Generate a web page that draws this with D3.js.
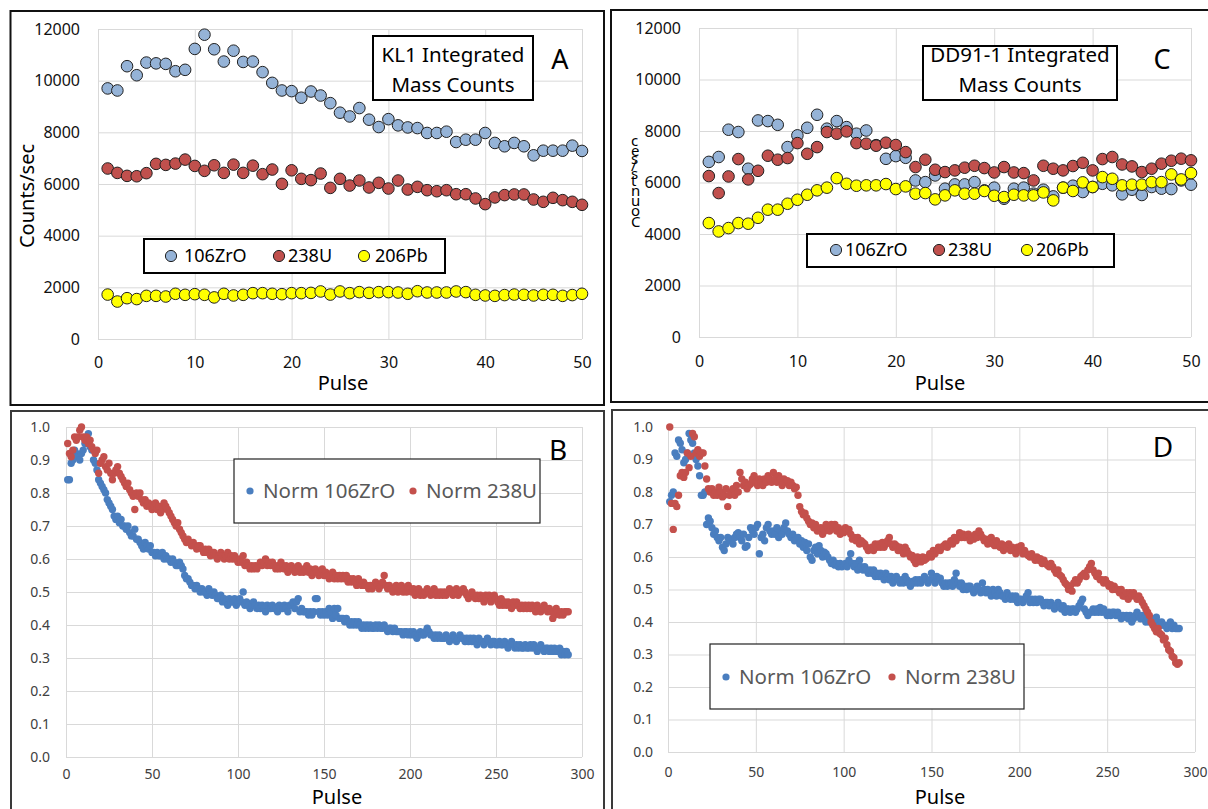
<!DOCTYPE html>
<html><head><meta charset="utf-8">
<script src="https://cdn.jsdelivr.net/npm/d3@7"></script>
<style>body{margin:0;background:#fff;} svg{display:block;font-family:"Noto Sans",sans-serif;}</style>
</head><body><svg id="c" width="1208" height="809"></svg>
<script>
// ---------- DATA ----------
const massNames = ["106ZrO", "238U", "206Pb"];
const normNames = ["Norm 106ZrO", "Norm 238U"];
const countTicks = [0, 2000, 4000, 6000, 8000, 10000, 12000];
const pulseTicks50 = [0, 10, 20, 30, 40, 50];
const normTicks = [0, 0.1, 0.2, 0.3, 0.4, 0.5, 0.6, 0.7, 0.8, 0.9, 1.0];
const pulseTicks300 = [0, 50, 100, 150, 200, 250, 300];

// Panel A : KL1 integrated mass counts (pulse 1..50)
const klZrO = [9700,9620,10560,10210,10700,10670,10650,10365,10420,11230,
  11780,11215,10740,11160,10725,10740,10330,9915,9620,9595,
  9340,9580,9425,9130,8760,8615,8940,8490,8205,8510,
  8270,8190,8165,7975,7975,8025,7625,7715,7715,7975,
  7590,7460,7590,7460,7110,7290,7290,7290,7485,7280];
const klU = [6600,6430,6315,6300,6420,6780,6740,6790,6945,6700,
  6510,6725,6430,6750,6430,6710,6380,6560,6005,6530,
  6200,6150,6405,5850,6200,5940,6135,5865,6045,5825,
  6135,5785,5890,5760,5720,5760,5605,5605,5440,5220,
  5480,5570,5595,5595,5400,5310,5465,5375,5310,5195];
const klPb = [1720,1450,1580,1545,1670,1670,1645,1750,1710,1735,
  1710,1610,1750,1685,1710,1775,1775,1750,1735,1775,
  1775,1785,1840,1720,1840,1775,1815,1785,1815,1815,
  1800,1750,1850,1800,1800,1800,1840,1815,1710,1685,
  1670,1700,1720,1710,1685,1710,1710,1670,1700,1750];

// Panel C : DD91-1 integrated mass counts (pulse 1..50)
const ddZrO = [6800,6990,8050,7960,6535,8410,8385,8240,7375,7830,
  8125,8630,8090,8385,8150,7895,8020,7450,6920,7025,
  6960,6080,6015,6275,5760,5925,5925,6015,5695,5800,
  5370,5760,5800,5565,5720,5460,5800,5875,5630,5825,
  5950,5890,5540,5720,5515,5825,5760,5745,6080,5915];
const ddU = [6250,5590,6235,6910,6120,6455,7040,6885,6950,7530,
  7115,7375,7960,7895,7985,7530,7505,7430,7545,7455,
  7180,6600,6885,6495,6405,6470,6575,6650,6560,6390,
  6600,6390,6365,6080,6650,6535,6470,6640,6765,6470,
  6910,6990,6700,6625,6405,6535,6730,6845,6925,6860];
const ddPb = [4425,4100,4230,4425,4400,4630,4945,4945,5175,5330,
  5525,5695,5800,6170,5950,5875,5890,5890,5940,5745,
  5850,5565,5590,5345,5500,5695,5565,5565,5670,5485,
  5435,5525,5500,5500,5615,5305,5800,5670,6005,5825,
  6210,6145,5890,5915,5915,6015,6015,6315,6120,6365];

// Panel B : KL1 normalised (pulse 1..292)
const klNormZrO = [0.84,0.84,0.89,0.90,0.93,0.92,0.91,0.90,0.92,0.93,
  0.95,0.97,0.98,0.94,0.93,0.90,0.89,0.87,0.84,0.83,
  0.82,0.81,0.80,0.78,0.77,0.76,0.75,0.73,0.72,0.73,
  0.71,0.72,0.70,0.70,0.69,0.70,0.68,0.67,0.67,0.69,
  0.66,0.66,0.65,0.64,0.63,0.65,0.64,0.63,0.64,0.62,
  0.62,0.61,0.62,0.61,0.61,0.62,0.60,0.61,0.60,0.60,
  0.59,0.60,0.59,0.58,0.58,0.59,0.58,0.57,0.55,0.54,
  0.54,0.53,0.52,0.52,0.51,0.52,0.51,0.50,0.51,0.50,
  0.50,0.49,0.51,0.50,0.49,0.50,0.49,0.48,0.48,0.49,
  0.47,0.48,0.47,0.46,0.48,0.47,0.47,0.48,0.46,0.47,
  0.48,0.47,0.50,0.46,0.47,0.46,0.45,0.46,0.47,0.46,
  0.45,0.46,0.45,0.46,0.45,0.44,0.46,0.45,0.45,0.46,
  0.45,0.45,0.44,0.46,0.45,0.45,0.46,0.45,0.44,0.46,
  0.46,0.47,0.45,0.47,0.48,0.44,0.45,0.44,0.44,0.44,
  0.43,0.44,0.43,0.44,0.48,0.48,0.44,0.43,0.44,0.43,
  0.44,0.43,0.45,0.44,0.42,0.45,0.43,0.45,0.42,0.42,
  0.42,0.41,0.42,0.41,0.40,0.41,0.40,0.41,0.40,0.41,
  0.40,0.39,0.40,0.39,0.40,0.39,0.40,0.39,0.39,0.40,
  0.39,0.40,0.39,0.39,0.40,0.39,0.38,0.39,0.39,0.38,
  0.39,0.38,0.38,0.38,0.38,0.37,0.38,0.38,0.37,0.38,
  0.37,0.38,0.37,0.36,0.37,0.38,0.37,0.37,0.38,0.39,
  0.38,0.37,0.37,0.36,0.37,0.36,0.37,0.36,0.36,0.36,
  0.37,0.36,0.35,0.36,0.37,0.36,0.35,0.36,0.37,0.36,
  0.36,0.35,0.36,0.35,0.36,0.35,0.36,0.35,0.34,0.36,
  0.35,0.35,0.34,0.35,0.36,0.35,0.34,0.35,0.35,0.34,
  0.34,0.35,0.34,0.34,0.35,0.34,0.33,0.34,0.35,0.34,
  0.33,0.34,0.33,0.34,0.33,0.33,0.34,0.33,0.33,0.34,
  0.33,0.34,0.33,0.32,0.33,0.34,0.33,0.32,0.33,0.33,
  0.32,0.33,0.32,0.33,0.32,0.32,0.33,0.31,0.32,0.31,
  0.32,0.31];
const klNormU = [0.95,0.92,0.91,0.93,0.97,0.96,0.97,0.99,1.00,0.97,
  0.96,0.97,0.95,0.96,0.94,0.93,0.92,0.93,0.86,0.89,
  0.90,0.91,0.88,0.87,0.89,0.86,0.84,0.86,0.87,0.88,
  0.86,0.85,0.84,0.83,0.82,0.83,0.81,0.80,0.79,0.75,
  0.80,0.79,0.80,0.78,0.77,0.78,0.76,0.77,0.76,0.75,
  0.76,0.77,0.75,0.76,0.74,0.75,0.77,0.76,0.75,0.74,
  0.73,0.72,0.71,0.70,0.71,0.69,0.68,0.67,0.66,0.65,
  0.66,0.65,0.64,0.65,0.64,0.63,0.64,0.64,0.63,0.62,
  0.63,0.62,0.63,0.61,0.62,0.62,0.61,0.60,0.61,0.62,
  0.61,0.60,0.61,0.62,0.60,0.61,0.60,0.61,0.60,0.59,
  0.60,0.59,0.61,0.58,0.59,0.58,0.57,0.58,0.57,0.58,
  0.57,0.58,0.59,0.58,0.59,0.60,0.58,0.59,0.58,0.59,
  0.58,0.57,0.58,0.57,0.59,0.58,0.57,0.58,0.56,0.57,
  0.58,0.57,0.56,0.57,0.58,0.56,0.57,0.56,0.57,0.58,
  0.56,0.57,0.55,0.56,0.57,0.56,0.55,0.56,0.57,0.55,
  0.56,0.55,0.54,0.55,0.56,0.54,0.55,0.54,0.55,0.54,
  0.55,0.54,0.55,0.53,0.54,0.53,0.54,0.53,0.52,0.54,
  0.53,0.52,0.53,0.52,0.52,0.51,0.52,0.51,0.52,0.53,
  0.52,0.51,0.52,0.53,0.55,0.52,0.51,0.52,0.51,0.50,
  0.51,0.52,0.50,0.51,0.52,0.50,0.51,0.50,0.52,0.51,
  0.50,0.51,0.49,0.50,0.51,0.49,0.50,0.49,0.50,0.51,
  0.50,0.49,0.50,0.51,0.49,0.50,0.49,0.50,0.49,0.50,
  0.49,0.50,0.51,0.50,0.49,0.50,0.51,0.49,0.50,0.50,
  0.51,0.50,0.49,0.48,0.49,0.50,0.49,0.48,0.49,0.48,
  0.49,0.48,0.47,0.49,0.48,0.49,0.47,0.48,0.49,0.48,
  0.47,0.46,0.48,0.46,0.47,0.46,0.47,0.46,0.45,0.47,
  0.46,0.47,0.46,0.45,0.46,0.45,0.46,0.45,0.46,0.45,
  0.46,0.45,0.44,0.46,0.45,0.44,0.45,0.46,0.45,0.44,
  0.45,0.44,0.42,0.43,0.45,0.44,0.43,0.44,0.43,0.44,
  0.44,0.44];

// Panel D : DD91-1 normalised (pulse 1..291)
const ddNormZrO = [0.77,0.79,0.80,0.92,0.91,0.96,0.95,0.93,0.89,0.90,
  0.92,0.98,0.96,0.95,0.92,0.90,0.88,0.85,0.79,0.79,
  0.80,0.70,0.72,0.71,0.69,0.67,0.68,0.66,0.65,0.66,
  0.63,0.62,0.64,0.66,0.65,0.655,0.64,0.66,0.67,0.675,
  0.66,0.65,0.67,0.63,0.635,0.66,0.69,0.68,0.67,0.69,
  0.70,0.61,0.66,0.67,0.65,0.69,0.70,0.68,0.67,0.68,
  0.67,0.69,0.66,0.68,0.67,0.69,0.705,0.68,0.67,0.66,
  0.67,0.65,0.655,0.66,0.64,0.65,0.63,0.645,0.62,0.64,
  0.60,0.59,0.62,0.63,0.61,0.635,0.62,0.60,0.615,0.61,
  0.60,0.59,0.58,0.59,0.575,0.58,0.57,0.58,0.57,0.575,
  0.58,0.57,0.59,0.61,0.58,0.57,0.58,0.56,0.59,0.57,
  0.56,0.57,0.56,0.55,0.56,0.55,0.56,0.54,0.55,0.54,
  0.55,0.54,0.53,0.55,0.54,0.53,0.54,0.52,0.53,0.54,
  0.53,0.52,0.53,0.52,0.54,0.53,0.52,0.51,0.525,0.52,
  0.53,0.52,0.53,0.52,0.53,0.54,0.53,0.52,0.53,0.55,
  0.53,0.52,0.54,0.53,0.535,0.52,0.51,0.52,0.51,0.52,
  0.52,0.51,0.53,0.55,0.52,0.51,0.52,0.50,0.51,0.50,
  0.51,0.51,0.50,0.49,0.50,0.51,0.50,0.49,0.52,0.50,
  0.49,0.50,0.49,0.48,0.50,0.49,0.48,0.50,0.49,0.48,
  0.48,0.47,0.49,0.48,0.47,0.48,0.47,0.48,0.46,0.47,
  0.47,0.46,0.47,0.48,0.49,0.46,0.47,0.46,0.47,0.46,
  0.47,0.47,0.46,0.45,0.46,0.46,0.45,0.46,0.45,0.44,
  0.45,0.46,0.45,0.44,0.45,0.43,0.44,0.44,0.43,0.44,
  0.44,0.43,0.44,0.45,0.46,0.47,0.44,0.43,0.42,0.43,
  0.43,0.44,0.43,0.44,0.43,0.445,0.43,0.44,0.43,0.42,
  0.43,0.42,0.43,0.43,0.42,0.43,0.42,0.41,0.42,0.415,
  0.42,0.41,0.42,0.40,0.41,0.42,0.43,0.42,0.41,0.42,
  0.41,0.40,0.41,0.40,0.41,0.40,0.39,0.415,0.40,0.39,
  0.40,0.39,0.39,0.38,0.39,0.40,0.38,0.39,0.38,0.38,0.38];
const ddNormU = [1.00,0.765,0.685,0.765,0.755,0.79,0.85,0.86,0.845,0.86,
  0.92,0.875,0.91,0.98,0.97,0.92,0.93,0.91,0.92,0.92,
  0.88,0.84,0.81,0.80,0.81,0.79,0.80,0.79,0.815,0.80,
  0.785,0.79,0.81,0.755,0.79,0.80,0.81,0.79,0.82,0.80,
  0.86,0.84,0.82,0.83,0.81,0.82,0.825,0.84,0.85,0.83,
  0.82,0.84,0.83,0.82,0.84,0.83,0.85,0.84,0.83,0.86,
  0.84,0.83,0.85,0.84,0.82,0.84,0.83,0.835,0.82,0.83,
  0.82,0.81,0.815,0.79,0.755,0.74,0.73,0.735,0.72,0.71,
  0.70,0.705,0.69,0.70,0.68,0.685,0.69,0.67,0.68,0.70,
  0.69,0.68,0.70,0.69,0.70,0.68,0.69,0.67,0.68,0.675,
  0.69,0.68,0.685,0.67,0.655,0.66,0.65,0.66,0.64,0.65,
  0.645,0.64,0.63,0.62,0.625,0.63,0.62,0.64,0.63,0.64,
  0.63,0.645,0.63,0.64,0.65,0.66,0.64,0.63,0.64,0.635,
  0.62,0.63,0.62,0.61,0.63,0.62,0.61,0.60,0.605,0.59,
  0.58,0.60,0.59,0.585,0.60,0.59,0.595,0.60,0.61,0.60,
  0.62,0.61,0.62,0.63,0.62,0.63,0.635,0.64,0.63,0.64,
  0.65,0.64,0.66,0.65,0.66,0.675,0.66,0.67,0.66,0.665,
  0.67,0.65,0.66,0.655,0.67,0.66,0.68,0.67,0.66,0.65,
  0.655,0.64,0.65,0.66,0.64,0.635,0.65,0.64,0.63,0.64,
  0.62,0.635,0.63,0.64,0.62,0.63,0.62,0.61,0.63,0.62,
  0.635,0.61,0.62,0.61,0.605,0.60,0.61,0.60,0.59,0.60,
  0.59,0.595,0.58,0.59,0.58,0.575,0.57,0.58,0.57,0.56,
  0.55,0.56,0.545,0.54,0.53,0.52,0.515,0.50,0.51,0.495,
  0.52,0.53,0.52,0.53,0.54,0.545,0.55,0.54,0.56,0.57,
  0.58,0.56,0.55,0.54,0.55,0.53,0.53,0.52,0.53,0.52,
  0.51,0.515,0.50,0.51,0.50,0.50,0.49,0.50,0.48,0.48,
  0.49,0.47,0.49,0.48,0.49,0.48,0.47,0.48,0.47,0.46,
  0.45,0.44,0.43,0.42,0.40,0.39,0.38,0.37,0.38,0.365,
  0.36,0.345,0.35,0.33,0.315,0.31,0.295,0.29,0.275,0.27,0.275];

// ---------- DRAWING ----------
const FONT = '"Noto Sans", "Open Sans", sans-serif';
const svg = d3.select("#c");
const massColors = ["#95b3d7", "#c0504d", "#ffff00"];
const normColors = ["#4a7ebf", "#c4504c"];

function panel(cfg) {
  const g = svg.append("g");
  const [px0, py0, px1, py1] = cfg.plot;
  const x = d3.scaleLinear().domain(cfg.xDomain).range([px0, px1]);
  const y = d3.scaleLinear().domain(cfg.yDomain).range([py1, py0]);
  const w = px1 - px0, h = py1 - py0;

  const gx = g.append("g").attr("transform", `translate(0,${py1})`)
    .call(d3.axisBottom(x).tickValues(cfg.xTicks).tickSize(-h).tickPadding(cfg.xPad).tickFormat(d3.format("d")));
  const gy = g.append("g").attr("transform", `translate(${px0},0)`)
    .call(d3.axisLeft(y).tickValues(cfg.yTicks).tickSize(-w).tickPadding(cfg.yPad).tickFormat(cfg.yFmt));
  [gx, gy].forEach(a => {
    a.attr("font-family", FONT).attr("font-size", cfg.tickFont);
    a.select(".domain").remove();
    a.selectAll("line").attr("stroke", "#d9d9d9").attr("stroke-width", 1);
    a.selectAll("text").attr("fill", cfg.tickColor);
  });

  cfg.series.forEach(s => {
    g.append("g").selectAll("circle").data(s.values).join("circle")
      .attr("cx", (d, i) => x(i + 1)).attr("cy", d => y(d))
      .attr("r", cfg.r).attr("fill", s.color)
      .attr("stroke", cfg.outline ? "#202020" : "none").attr("stroke-width", 1);
  });

  // legend
  const L = cfg.legend;
  g.append("rect").attr("x", L.box[0]).attr("y", L.box[1]).attr("width", L.box[2]).attr("height", L.box[3])
    .attr("fill", "#fff").attr("stroke", L.stroke).attr("stroke-width", L.sw);
  cfg.series.forEach((s, i) => {
    g.append("circle").attr("cx", L.dots[i]).attr("cy", L.cy).attr("r", L.r).attr("fill", s.color)
      .attr("stroke", cfg.outline ? "#202020" : "none").attr("stroke-width", 1);
    g.append("text").attr("x", L.texts[i]).attr("y", L.cy).attr("dy", "0.35em")
      .attr("font-family", FONT).attr("font-size", L.font).attr("fill", L.color).text(s.name);
  });

  // title box
  if (cfg.title) {
    const T = cfg.title;
    g.append("rect").attr("x", T.box[0]).attr("y", T.box[1]).attr("width", T.box[2]).attr("height", T.box[3])
      .attr("fill", "#fff").attr("stroke", "#000").attr("stroke-width", 2);
    T.lines.forEach((t, i) => {
      g.append("text").attr("x", T.cx).attr("y", T.ys[i]).attr("dy", "0.35em").attr("text-anchor", "middle")
        .attr("font-family", FONT).attr("font-size", T.font).attr("fill", "#000").text(t);
    });
  }
  // panel letter
  g.append("text").attr("x", cfg.letter[1]).attr("y", cfg.letter[2]).attr("dy", "0.35em").attr("text-anchor", "middle")
    .attr("font-family", FONT).attr("font-size", cfg.letter[3]).attr("fill", "#000").text(cfg.letter[0]);
  // x title
  g.append("text").attr("x", cfg.xTitle[0]).attr("y", cfg.xTitle[1]).attr("dy", "0.35em").attr("text-anchor", "middle")
    .attr("font-family", FONT).attr("font-size", 20).attr("fill", "#000").text("Pulse");
  // frame
  g.append("rect").attr("x", cfg.frame[0]).attr("y", cfg.frame[1])
    .attr("width", cfg.frame[2] - cfg.frame[0]).attr("height", cfg.frame[3] - cfg.frame[1])
    .attr("fill", "none").attr("stroke", cfg.frameColor).attr("stroke-width", 2);
  return g;
}

const fmtCount = d3.format("d");
const fmtNorm = d3.format(".1f");

// Panel A
const gA = panel({
  frame: [10.5, 11, 604, 405], frameColor: "#111",
  plot: [98, 29, 582, 339], xDomain: [0, 50], yDomain: [0, 12000],
  xTicks: pulseTicks50, yTicks: countTicks, yFmt: fmtCount,
  xPad: 18, yPad: 18, tickFont: 16, tickColor: "#111",
  r: 5.8, outline: true,
  series: [{name: massNames[0], values: klZrO, color: massColors[0]},
           {name: massNames[1], values: klU, color: massColors[1]},
           {name: massNames[2], values: klPb, color: massColors[2]}],
  legend: {box: [144, 239, 301, 34], stroke: "#000", sw: 2, dots: [171, 279, 364], texts: [184, 288, 375], cy: 256, r: 5.6, font: 18, color: "#000"},
  title: {box: [373, 36, 160, 64], lines: ["KL1 Integrated", "Mass Counts"], cx: 453, ys: [55, 85], font: 20.5},
  letter: ["A", 560, 60, 27], xTitle: [343, 383]
});
gA.append("text").attr("transform", "translate(27,196) rotate(-90)").attr("dy", "0.35em").attr("text-anchor", "middle")
  .attr("font-family", FONT).attr("font-size", 20).text("Counts/sec");

// Panel C
const gC = panel({
  frame: [611, 10, 1210, 402], frameColor: "#111",
  plot: [699, 28, 1191, 337], xDomain: [0, 50], yDomain: [0, 12000],
  xTicks: pulseTicks50, yTicks: countTicks, yFmt: fmtCount,
  xPad: 19, yPad: 18, tickFont: 16, tickColor: "#111",
  r: 5.8, outline: true,
  series: [{name: massNames[0], values: ddZrO, color: massColors[0]},
           {name: massNames[1], values: ddU, color: massColors[1]},
           {name: massNames[2], values: ddPb, color: massColors[2]}],
  legend: {box: [807, 234, 307, 33], stroke: "#000", sw: 2, dots: [836, 939, 1027], texts: [845, 948, 1036], cy: 250, r: 5.6, font: 18, color: "#000"},
  title: {box: [923, 46, 194, 54], lines: ["DD91-1 Integrated", "Mass Counts"], cx: 1020, ys: [55, 85], font: 20.5},
  letter: ["C", 1162, 60, 27], xTitle: [940, 383]
});
gC.append("text").attr("transform", "translate(631,183) rotate(-90)").attr("text-anchor", "middle")
  .attr("rotate", 90).attr("textLength", 88).attr("lengthAdjust", "spacing")
  .attr("font-family", FONT).attr("font-size", 15).text("Counts/sec");

// Panel B
panel({
  frame: [11, 411, 604, 812], frameColor: "#3a3a3a",
  plot: [66, 427, 582, 757], xDomain: [0, 300], yDomain: [0, 1],
  xTicks: pulseTicks300, yTicks: normTicks, yFmt: fmtNorm,
  xPad: 12, yPad: 16, tickFont: 14, tickColor: "#404040",
  r: 3.7, outline: false,
  series: [{name: normNames[0], values: klNormZrO, color: normColors[0]},
           {name: normNames[1], values: klNormU, color: normColors[1]}],
  legend: {box: [234, 459, 306, 64], stroke: "#222", sw: 1.2, dots: [250, 413], texts: [263, 426], cy: 491, r: 3.6, font: 20.5, color: "#595959"},
  letter: ["B", 558, 450, 28], xTitle: [337, 797]
});

// Panel D
panel({
  frame: [612, 410, 1210, 812], frameColor: "#3a3a3a",
  plot: [668, 427, 1195, 752], xDomain: [0, 300], yDomain: [0, 1],
  xTicks: pulseTicks300, yTicks: normTicks, yFmt: fmtNorm,
  xPad: 15, yPad: 15, tickFont: 14, tickColor: "#404040",
  r: 3.7, outline: false,
  series: [{name: normNames[0], values: ddNormZrO, color: normColors[0]},
           {name: normNames[1], values: ddNormU, color: normColors[1]}],
  legend: {box: [710, 644, 314, 65], stroke: "#222", sw: 1.2, dots: [726, 892], texts: [739, 905], cy: 677, r: 3.6, font: 20.5, color: "#595959"},
  letter: ["D", 1163, 447, 28], xTitle: [940, 797]
});
</script></body></html>
